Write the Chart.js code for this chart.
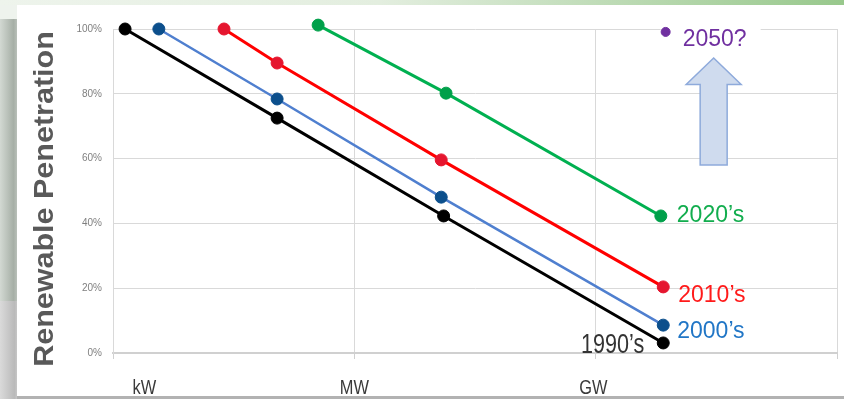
<!DOCTYPE html>
<html>
<head>
<meta charset="utf-8">
<script src="https://cdn.jsdelivr.net/npm/chart.js@4.4.0/dist/chart.umd.min.js"></script>
<style>
    html, body { margin: 0; padding: 0; }
    body { width: 844px; height: 399px; position: relative; overflow: hidden; background: #fff; }
    .band { position: absolute; left: 0; top: 0; width: 844px; height: 5px; background: linear-gradient(to right, #eef4ec 0%, #e3eedf 45%, #98c88c 100%); }
    .edge-top { position: absolute; left: 0; top: 5px; width: 17px; height: 14px; background: #eef3ed; }
    .edge-mid { position: absolute; left: 0; top: 19px; width: 17px; height: 282px; background: linear-gradient(to right, #d3d9d3 0%, #a6afa6 80%, #b9c0b9 100%); }
    .edge-low { position: absolute; left: 0; top: 301px; width: 17px; height: 98px; background: linear-gradient(to right, #dadada 0%, #bababa 85%, #c6c6c6 100%); }
    .foot { position: absolute; left: 17px; top: 396px; width: 827px; height: 3px; background: #b2b2b2; }
    #chart { position: absolute; left: 0; top: 0; }
</style>
</head>
<body>
<div class="band"></div>
<div class="edge-top"></div>
<div class="edge-mid"></div>
<div class="edge-low"></div>
<div class="foot"></div>
<canvas id="chart" width="844" height="399"></canvas>
<script>
    // project size on a log-like axis (0 = kW, 1 = MW, 2 = GW) vs renewable share in %
    var xTickLabels = ['kW', 'MW', 'GW'];
    var xTickAt = [0.13, 1, 1.99];

    var seriesNames = ['1990\u2019s', '2000\u2019s', '2010\u2019s', '2020\u2019s', '2050?'];
    var size1990 = [0.05, 0.68, 1.37, 2.28];
    var share1990 = [100, 72.5, 42.3, 3.1];
    var size2000 = [0.19, 0.68, 1.36, 2.28];
    var share2000 = [100, 78.4, 48.1, 8.6];
    var size2010 = [0.46, 0.68, 1.36, 2.28];
    var share2010 = [100, 89.5, 59.6, 20.4];
    var size2020 = [0.85, 1.38, 2.27];
    var share2020 = [101.2, 80.2, 42.3];
    var size2050 = [2.29];
    var share2050 = [99.1];

    var FONT = '"Liberation Sans", Arial, sans-serif';

    function toPoints(xs, ys) {
        var pts = [];
        for (var i = 0; i < xs.length; i++) {
            pts.push({ x: xs[i], y: ys[i] });
        }
        return pts;
    }

    function makeSeries(label, xs, ys, lineColor, dotColor, width, radius) {
        return {
            label: label,
            data: toPoints(xs, ys),
            borderColor: lineColor,
            borderWidth: width,
            pointBackgroundColor: dotColor,
            pointBorderColor: dotColor,
            pointBorderWidth: 1,
            pointRadius: radius,
            showLine: true,
            clip: false
        };
    }

    // where each series name sits relative to its last dot
    var labelStyle = [
        { color: '#333333', dx: -19, dy: 3, align: 'right', size: 27, squeeze: 0.8 },
        { color: '#2176c6', dx: 14, dy: 7, align: 'left', size: 23, squeeze: 1 },
        { color: '#ff1a1a', dx: 15, dy: 9, align: 'left', size: 23, squeeze: 1 },
        { color: '#12ad4e', dx: 16, dy: 0, align: 'left', size: 23, squeeze: 1 },
        { color: '#7030a0', dx: 17, dy: 8, align: 'left', size: 23, squeeze: 1 }
    ];

    function lastPoint(chart, i) {
        var pts = chart.getDatasetMeta(i).data;
        return pts[pts.length - 1];
    }

    var decor = {
        id: 'decor',
        beforeDatasetsDraw: function (chart) {
            var ctx = chart.ctx;
            var p = lastPoint(chart, 4);
            ctx.save();
            // text box behind "2050?" hides the top gridline
            ctx.fillStyle = '#fff';
            ctx.fillRect(p.x - 5, 24, 100, 26);

            // up arrow under the 2050 marker
            var tipX = p.x + 48, tipY = 58;
            ctx.beginPath();
            ctx.moveTo(tipX, tipY);
            ctx.lineTo(tipX + 27.5, tipY + 26.5);
            ctx.lineTo(tipX + 13.5, tipY + 26.5);
            ctx.lineTo(tipX + 13.5, 165);
            ctx.lineTo(tipX - 13.5, 165);
            ctx.lineTo(tipX - 13.5, tipY + 26.5);
            ctx.lineTo(tipX - 27.5, tipY + 26.5);
            ctx.closePath();
            ctx.fillStyle = '#cfdbee';
            ctx.fill();
            ctx.lineWidth = 1.5;
            ctx.strokeStyle = '#8eaadb';
            ctx.stroke();
            ctx.restore();
        },
        afterDraw: function (chart) {
            var ctx = chart.ctx;
            var area = chart.chartArea;
            var xs = chart.scales.x;
            ctx.save();

            // series names at the line ends
            ctx.textBaseline = 'middle';
            for (var i = 0; i < seriesNames.length; i++) {
                var st = labelStyle[i];
                var p = lastPoint(chart, i);
                ctx.save();
                ctx.translate(p.x + st.dx, p.y + st.dy);
                ctx.scale(st.squeeze, 1);
                ctx.font = st.size + 'px ' + FONT;
                ctx.fillStyle = st.color;
                ctx.textAlign = st.align;
                ctx.fillText(seriesNames[i], 0, 0);
                ctx.restore();
            }

            // x axis unit labels
            ctx.textAlign = 'center';
            ctx.textBaseline = 'alphabetic';
            ctx.fillStyle = '#3a3a3a';
            for (var j = 0; j < xTickLabels.length; j++) {
                ctx.save();
                ctx.translate(xs.getPixelForValue(xTickAt[j]), 394);
                ctx.scale(0.78, 1);
                ctx.font = '21px ' + FONT;
                ctx.fillText(xTickLabels[j], 0, 0);
                ctx.restore();
            }

            // y axis title
            ctx.save();
            ctx.translate(53, (area.top + area.bottom) / 2 + 8);
            ctx.rotate(-Math.PI / 2);
            ctx.scale(1.13, 1);
            ctx.font = 'bold 27px ' + FONT;
            ctx.fillStyle = '#595959';
            ctx.fillText('Renewable Penetration', 0, 0);
            ctx.restore();

            ctx.restore();
        }
    };

    new Chart(document.getElementById('chart'), {
        type: 'scatter',
        data: {
            datasets: [
                makeSeries(seriesNames[0], size1990, share1990, '#000000', '#000000', 3, 6),
                makeSeries(seriesNames[1], size2000, share2000, '#4f7fcf', '#0c4f8c', 2.5, 6),
                makeSeries(seriesNames[2], size2010, share2010, '#ff0000', '#e5162f', 3, 6),
                makeSeries(seriesNames[3], size2020, share2020, '#00b050', '#00a04a', 3, 6),
                makeSeries(seriesNames[4], size2050, share2050, '#7030a0', '#7030a0', 0, 4.5)
            ]
        },
        options: {
            responsive: false,
            animation: false,
            layout: { padding: { top: 29, right: 6, left: 0, bottom: 0 } },
            plugins: {
                legend: { display: false },
                tooltip: { enabled: false }
            },
            scales: {
                x: {
                    type: 'linear',
                    min: 0,
                    max: 3,
                    ticks: { display: false, stepSize: 1 },
                    grid: { color: '#d9d9d9', drawTicks: true, tickLength: 6, tickColor: '#d0d0d0' },
                    border: { color: '#d0d0d0', width: 2 },
                    afterFit: function (scale) { scale.height = 46; }
                },
                y: {
                    min: 0,
                    max: 100,
                    ticks: {
                        stepSize: 20,
                        padding: 11,
                        color: '#7f7f7f',
                        font: { size: 10, family: FONT },
                        callback: function (v) { return v + '%'; }
                    },
                    grid: { color: '#d9d9d9', drawTicks: false },
                    border: { color: '#d9d9d9' },
                    afterFit: function (scale) { scale.width = 113; }
                }
            }
        },
        plugins: [decor]
    });
</script>
</body>
</html>
